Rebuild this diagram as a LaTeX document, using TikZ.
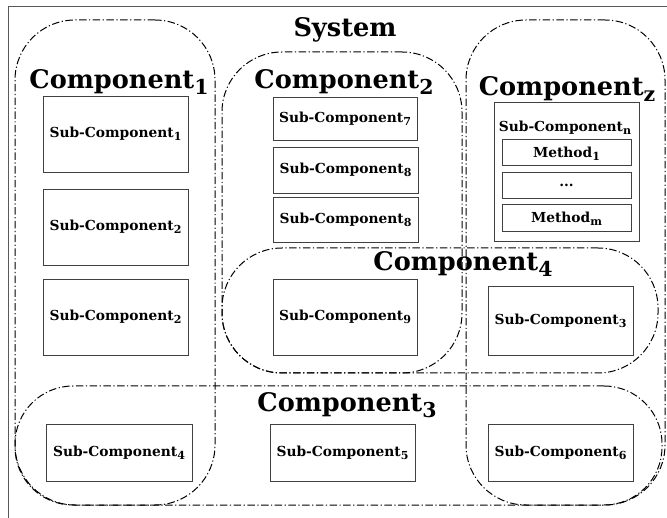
\documentclass[tikz,border=0pt]{standalone}
\usepackage{fontspec}
\setmainfont{DejaVu Serif}[BoldFont={DejaVu Serif Bold}]
\newcommand{\sbs}[1]{\raisebox{-0.4ex}{\scalebox{0.8}{#1}}}
\tikzset{
  x=1pt, y=-1pt,
  ddot/.style={draw=black, line width=1pt, dash pattern=on 7.5pt off 2.5pt on 1.2pt off 2.5pt},
  container/.style={ddot, rectangle, rounded corners=60pt, inner sep=0pt, outer sep=0pt},
  subbox/.style={draw=black!75, line width=0.9pt, rectangle, inner sep=0pt, outer sep=0pt, font=\bfseries\fontsize{13.8}{15}\selectfont},
  title/.style={font=\bfseries\fontsize{25.6}{30}\selectfont, inner sep=0pt, anchor=base},
}
\begin{document}
\begin{tikzpicture}
\useasboundingbox (0,0) rectangle (667,518);
\node[draw=black!65, line width=1pt, rectangle, minimum width=664pt, minimum height=516pt, inner sep=0pt] (frame) at (340,265) {};
% containers
\node[container, minimum width=200pt, minimum height=485pt] (c1) at (115,262.5) {};
\node[container, minimum width=240pt, minimum height=321pt] (c2) at (342,212.5) {};
\node[container, minimum width=199pt, minimum height=485pt] (cz) at (565.5,262.5) {};
\node[container, minimum width=436pt, minimum height=125pt] (c4) at (440,310.5) {};
\node[container, rounded corners=58pt, minimum width=647pt, minimum height=119pt] (c3) at (338.5,445.5) {};
% titles
\node[title] (tsys) at (345,37) {System};
\node[title] (t1) at (119,89) {Component\sbs{1}};
\node[title] (t2) at (344,89) {Component\sbs{2}};
\node[title] (tz) at (567,96) {Component\sbs{z}};
\node[title] (t4) at (463,271) {Component\sbs{4}};
\node[title] (t3) at (347,412) {Component\sbs{3}};
% sub-components
\node[subbox, minimum width=145pt, minimum height=76pt] (s1) at (115.5,134) {Sub-Component\sbs{1}};
\node[subbox, minimum width=145pt, minimum height=76pt] (s2a) at (115.5,227) {Sub-Component\sbs{2}};
\node[subbox, minimum width=145pt, minimum height=76pt] (s2b) at (115.5,317) {Sub-Component\sbs{2}};
\node[subbox, minimum width=146pt, minimum height=57pt] (s4) at (119,452.5) {Sub-Component\sbs{4}};
\node[subbox, minimum width=144pt, minimum height=43pt] (s7) at (345,118.5) {Sub-Component\sbs{7}};
\node[subbox, minimum width=145pt, minimum height=46pt] (s8a) at (345.5,170) {Sub-Component\sbs{8}};
\node[subbox, minimum width=145pt, minimum height=45pt] (s8b) at (345.5,219.5) {Sub-Component\sbs{8}};
\node[subbox, minimum width=144pt, minimum height=76pt] (s9) at (345,317) {Sub-Component\sbs{9}};
\node[subbox, minimum width=145pt, minimum height=57pt] (s5) at (342.5,452.5) {Sub-Component\sbs{5}};
\node[subbox, minimum width=145pt, minimum height=69pt] (s3) at (560.5,320.5) {Sub-Component\sbs{3}};
\node[subbox, minimum width=145pt, minimum height=57pt] (s6) at (560.5,452.5) {Sub-Component\sbs{6}};
\node[subbox, minimum width=145pt, minimum height=139pt] (sn) at (566.5,171.5) {};
\node[font=\bfseries\fontsize{13.8}{15}\selectfont, inner sep=0pt, anchor=base] (snl) at (565,132) {Sub-Component\sbs{n}};
\node[subbox, minimum width=129pt, minimum height=26pt, text depth=-1pt] (m1) at (566.5,152) {Method\sbs{1}};
\node[subbox, minimum width=129pt, minimum height=26pt, text depth=-3pt] (md) at (566.5,185) {...};
\node[subbox, minimum width=129pt, minimum height=27pt, text depth=-1pt] (mm) at (566.5,217.5) {Method\sbs{m}};
\end{tikzpicture}
\end{document}
